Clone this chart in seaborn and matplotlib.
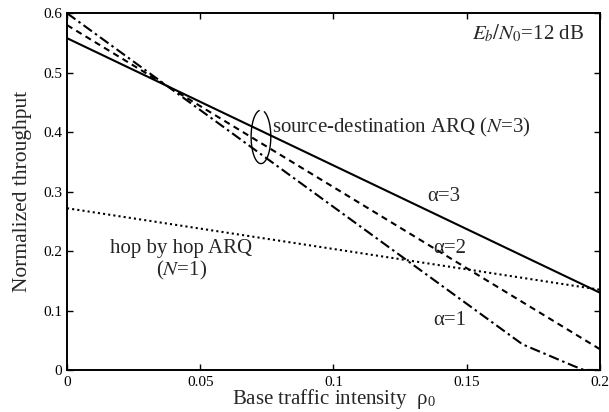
import matplotlib
matplotlib.use("Agg")
import matplotlib.pyplot as plt
import seaborn as sns
import numpy as np

# Data
rho_a3 = [0.0, 0.2]
thr_a3 = [0.558, 0.130]
rho_a2 = [0.0, 0.2]
thr_a2 = [0.580, 0.035]
rho_a1 = [0.0, 0.171, 0.180, 0.190, 0.194, 0.2]
thr_a1 = [0.600, 0.043, 0.026, 0.007, 0.0, 0.0]
rho_hop = [0.0, 0.2]
thr_hop = [0.272, 0.135]

xticks = [0, 0.05, 0.1, 0.15, 0.2]
xticklabels = ["0", "0.05", "0.1", "0.15", "0.2"]
yticks = [0, 0.1, 0.2, 0.3, 0.4, 0.5, 0.6]
yticklabels = ["0", "0.1", "0.2", "0.3", "0.4", "0.5", "0.6"]

sns.set_style("ticks")
plt.rcParams["font.family"] = ["Liberation Serif", "DejaVu Serif"]
plt.rcParams["mathtext.fontset"] = "stix"
plt.rcParams["xtick.direction"] = "in"
plt.rcParams["ytick.direction"] = "in"

fig = plt.figure(figsize=(6.09, 4.12), dpi=100)
ax = fig.add_axes([0.110, 0.102, 0.875, 0.866])

lw = 1.5
sns.lineplot(x=rho_a3, y=thr_a3, ax=ax, color="black", linewidth=lw, linestyle="-")
sns.lineplot(x=rho_a2, y=thr_a2, ax=ax, color="black", linewidth=lw,
             linestyle=(0, (3.0, 2.2)))
sns.lineplot(x=rho_a1, y=thr_a1, ax=ax, color="black", linewidth=lw,
             linestyle=(0, (5, 1.8, 1.2, 1.8)))
sns.lineplot(x=rho_hop, y=thr_hop, ax=ax, color="black", linewidth=lw,
             linestyle=(0, (1.0, 1.5)))

ax.set_xlim(0, 0.2)
ax.set_ylim(0, 0.6)
ax.set_xticks(xticks)
ax.set_xticklabels(xticklabels)
ax.set_yticks(yticks)
ax.set_yticklabels(yticklabels)
ax.tick_params(axis="both", labelsize=11, length=4, width=1, top=True, right=True,
               colors="black")
ax.tick_params(axis="x", pad=4)
for s in ax.spines.values():
    s.set_linewidth(1.4)
    s.set_color("black")

ax.set_xlabel(r"Base traffic intensity  ρ$_{\mathregular{0}}$", fontsize=15, labelpad=-1)
ax.set_ylabel("Normalized throughput", fontsize=15.5, labelpad=8)

fs = 15
ax.text(0.1415, 0.291, "α=3", fontsize=fs, ha="center", va="center")
ax.text(0.1437, 0.205, "α=2", fontsize=fs, ha="center", va="center")
ax.text(0.1437, 0.084, "α=1", fontsize=fs, ha="center", va="center")
ax.text(0.194, 0.566, r"$E_b/N_0$=12 dB", fontsize=fs, ha="right", va="center")
ax.text(0.077, 0.407, r"source-destination ARQ ($N$=3)", fontsize=fs, ha="left", va="center")
ax.text(0.043, 0.205, "hop by hop ARQ", fontsize=fs, ha="center", va="center")
ax.text(0.043, 0.168, r"($N$=1)", fontsize=fs, ha="center", va="center")

# elliptical bracket around the three source-destination curves
t = np.deg2rad(np.linspace(100, 430, 200))
cx, cy, w, h = 0.0728, 0.392, 0.0074, 0.090
ax.plot(cx + w / 2 * np.cos(t), cy + h / 2 * np.sin(t), color="black", linewidth=1.0)

fig.savefig("out.png", dpi=100)
